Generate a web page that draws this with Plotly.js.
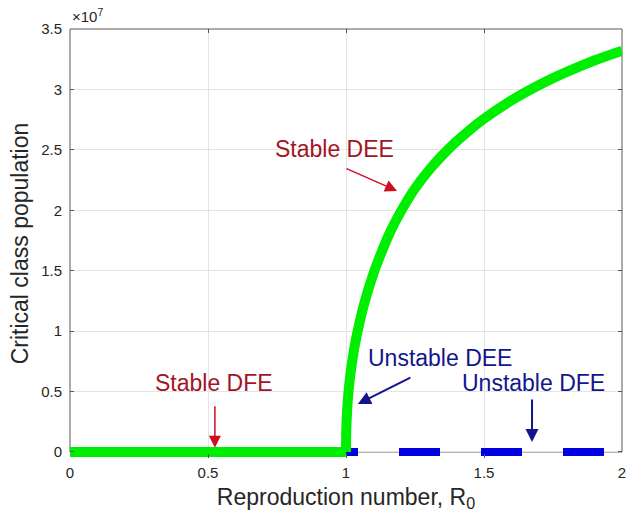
<!DOCTYPE html>
<html>
<head>
<meta charset="utf-8">
<script src="https://cdn.plot.ly/plotly-3.0.1.min.js"></script>
<style>html,body{margin:0;padding:0;background:#fff;}#chart{width:634px;height:527px;}</style>
</head>
<body>
<div id="chart"></div>
<script>
// Stable DFE branch (green, R0 < 1), population in units of 1e7
const dfeR0 = [0, 1];
const dfePop = [0, 0];
// Stable DEE branch (green, R0 > 1)
const deeR0 = [1, 1.001, 1.004, 1.010, 1.020, 1.030, 1.050, 1.070, 1.100, 1.130, 1.160, 1.200, 1.250, 1.300, 1.350, 1.400, 1.450, 1.500, 1.600, 1.700, 1.800, 1.900, 2.000];
const deePop = [0, 0.18, 0.34, 0.52, 0.71, 0.86, 1.08, 1.26, 1.48, 1.66, 1.82, 1.995, 2.18, 2.33, 2.457, 2.569, 2.668, 2.757, 2.91, 3.037, 3.145, 3.239, 3.32];
// Unstable DFE branch (blue dashed)
const unstableR0 = [1, 2];
const unstablePop = [0, 0];
const xTicks = [0, 0.5, 1, 1.5, 2];
const yTicks = [0, 0.5, 1, 1.5, 2, 2.5, 3, 3.5];
const yTickText = ['0', '0.5', '1', '1.5', '2', '2.5', '3', '3.5'];

const FONT = 'Liberation Sans, Arial, Helvetica, sans-serif';
const RED = '#a3141f';
const NAVY = '#14148c';
const GREEN = '#00ee00';
const yMin = -0.05, yMax = 3.5;

const traces = [
  {x: unstableR0, y: unstablePop, mode: 'lines', hoverinfo: 'skip',
   line: {color: '#0000e0', width: 8, dash: '12px,41px,41px,41px,41px,41px,41px,41px'}},
  {x: dfeR0, y: dfePop, mode: 'lines', hoverinfo: 'skip',
   line: {color: GREEN, width: 10}},
  {x: deeR0, y: deePop, mode: 'lines', hoverinfo: 'skip',
   line: {color: GREEN, width: 10, shape: 'spline', smoothing: 0.8}}
];

function label(text, x, y, color) {
  return {x: x, y: y, xref: 'x', yref: 'y', text: text, showarrow: false,
          font: {family: FONT, size: 23, color: color}, xanchor: 'center', yanchor: 'middle'};
}
function arrow(x, y, ax, ay, color, w, s) {
  return {x: x, y: y, xref: 'x', yref: 'y', text: '', showarrow: true, ax: ax, ay: ay,
          arrowhead: 2, arrowwidth: w, arrowsize: s, arrowcolor: color, standoff: 0, startstandoff: 0,
          font: {size: 1}};
}

const layout = {
  width: 634, height: 527,
  margin: {l: 70, r: 12, t: 29, b: 69},
  paper_bgcolor: '#fff', plot_bgcolor: '#fff',
  showlegend: false,
  font: {family: FONT, color: '#262626'},
  xaxis: {
    range: [0, 2], tickvals: xTicks, ticks: 'inside', ticklen: 4, tickcolor: '#555',
    mirror: 'ticks', showline: false, zeroline: false, ticklabelstandoff: 4,
    showgrid: true, gridcolor: '#e4e4e4', gridwidth: 1,
    tickfont: {family: FONT, size: 15, color: '#262626'},
    title: {text: 'Reproduction number, R<sub>0</sub>', font: {family: FONT, size: 23, color: '#262626'}, standoff: 8}
  },
  yaxis: {
    range: [yMin, yMax], tickvals: yTicks, ticktext: yTickText, ticks: 'inside', ticklen: 4, tickcolor: '#555',
    mirror: 'ticks', showline: false, zeroline: false, ticklabelstandoff: 7,
    showgrid: true, gridcolor: '#e4e4e4', gridwidth: 1,
    tickfont: {family: FONT, size: 15, color: '#262626'},
    title: {text: 'Critical class population', font: {family: FONT, size: 23, color: '#262626'}, standoff: 6}
  },
  shapes: [
    {type: 'rect', xref: 'paper', yref: 'paper', x0: 0, x1: 1,
     y0: (0 - yMin) / (yMax - yMin), y1: 1, layer: 'below',
     line: {color: '#5a5a5a', width: 1}, fillcolor: 'rgba(0,0,0,0)'}
  ],
  annotations: [
    {xref: 'paper', yref: 'paper', x: 0, y: 1, xanchor: 'left', yanchor: 'bottom', yshift: 2,
     text: '×10<sup>7</sup>', showarrow: false, font: {family: FONT, size: 15, color: '#262626'}},
    label('Stable DEE', 0.960, 2.507, RED),
    arrow(1.185, 2.16, -52, -23, '#cc1020', 1.5, 1.6),
    label('Stable DFE', 0.522, 0.571, RED),
    arrow(0.525, 0.035, 0, -43, '#cc1020', 1.5, 1.6),
    label('Unstable DEE', 1.341, 0.778, NAVY),
    arrow(1.043, 0.397, 54, -27, NAVY, 2, 1.3),
    label('Unstable DFE', 1.678, 0.571, NAVY),
    arrow(1.674, 0.083, 0, -44, NAVY, 2, 1.3)
  ]
};

Plotly.newPlot('chart', traces, layout, {displayModeBar: false, staticPlot: true});
</script>
</body>
</html>
